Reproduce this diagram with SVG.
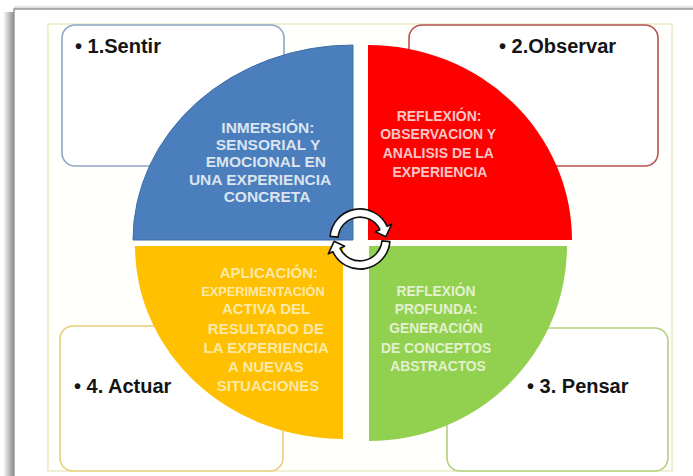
<svg xmlns="http://www.w3.org/2000/svg" width="693" height="476" viewBox="0 0 693 476">
<defs>
<linearGradient id="shL" x1="0" y1="0" x2="1" y2="0">
<stop offset="0" stop-color="#ffffff"/>
<stop offset="1" stop-color="#8a8a8a"/>
</linearGradient>
<linearGradient id="shT" x1="0" y1="0" x2="0" y2="1">
<stop offset="0" stop-color="#ffffff"/>
<stop offset="1" stop-color="#c8c8c8"/>
</linearGradient>
</defs>
<style>
.box{fill:#ffffff;stroke-width:1.6}
.lbl{font-family:"Liberation Sans",Arial,sans-serif;font-weight:bold;font-size:20px;fill:#141414}
.q{font-family:"Liberation Sans",Arial,sans-serif;font-weight:bold;text-anchor:middle}
.cyc{fill:#ffffff;stroke:#111111;stroke-width:1.6;stroke-linejoin:round}
</style>
<rect x="0" y="0" width="693" height="476" fill="#ffffff"/>
<!-- photo frame -->
<rect x="3" y="12" width="11" height="464" fill="url(#shL)"/>
<rect x="14" y="5" width="679" height="4" fill="url(#shT)"/>
<rect x="14" y="9" width="690" height="480" fill="#ffffff" stroke="#9a9a9a" stroke-width="1.5"/>
<!-- inner panel -->
<rect x="48" y="24" width="624" height="447" fill="#fffffb" stroke="#eceac6" stroke-width="1.5"/>

<g id="box1">
<rect class="box" x="62" y="25" width="222" height="141" rx="13" stroke="#8fa6c6"/>
<text class="lbl" x="75" y="53">• 1.Sentir</text>
</g>
<g id="box2">
<rect class="box" x="409" y="25" width="249" height="141" rx="13" stroke="#b9534f"/>
<text class="lbl" x="499" y="53">• 2.Observar</text>
</g>
<g id="box4">
<rect class="box" x="60" y="326" width="223" height="145" rx="13" stroke="#e6cf78"/>
<text class="lbl" x="74" y="393">• 4. Actuar</text>
</g>
<g id="box3">
<rect class="box" x="447" y="328" width="221" height="143" rx="13" stroke="#b3d07c"/>
<text class="lbl" x="527" y="393">• 3. Pensar</text>
</g>

<g id="q-blue">
<path d="M353 240 L133 240 A220 195 0 0 1 353 45 Z" fill="#4a7ebc" stroke="#3f6ea8" stroke-width="1"/>
<text class="q" fill="#dbe4ef" font-size="15.5">
<tspan x="270" y="133">INMERSIÓN:</tspan>
<tspan x="270" y="150">SENSORIAL Y</tspan>
<tspan x="268" y="167">EMOCIONAL EN</tspan>
<tspan x="262" y="185">UNA EXPERIENCIA</tspan>
<tspan x="267" y="202">CONCRETA</tspan>
</text>
</g>
<g id="q-red">
<path d="M368 240 L368 45 A204 195 0 0 1 572 240 Z" fill="#fe0000"/>
<text class="q" fill="#f9c6c6" font-size="14">
<tspan x="441" y="121">REFLEXIÓN:</tspan>
<tspan x="440" y="139">OBSERVACION Y</tspan>
<tspan x="440" y="158">ANALISIS DE LA</tspan>
<tspan x="440" y="177">EXPERIENCIA</tspan>
</text>
</g>
<g id="q-yellow">
<path d="M343 246 L343 439 A208 193 0 0 1 135 246 Z" fill="#fec000"/>
<text class="q" fill="#fde9a6" font-size="15">
<tspan x="271" y="278">APLICACIÓN:</tspan>
<tspan x="265" y="296" font-size="12.8">EXPERIMENTACIÓN</tspan>
<tspan x="268" y="314">ACTIVA DEL</tspan>
<tspan x="268" y="334">RESULTADO DE</tspan>
<tspan x="268" y="353">LA EXPERIENCIA</tspan>
<tspan x="268" y="372">A NUEVAS</tspan>
<tspan x="268" y="391">SITUACIONES</tspan>
</text>
</g>
<g id="q-green">
<path d="M369 246 L567 246 A198 195 0 0 1 369 441 Z" fill="#92d050"/>
<text class="q" fill="#e3f1cf" font-size="13.8">
<tspan x="438" y="296">REFLEXIÓN</tspan>
<tspan x="438" y="314">PROFUNDA:</tspan>
<tspan x="438" y="333">GENERACIÓN</tspan>
<tspan x="438" y="353">DE  CONCEPTOS</tspan>
<tspan x="438" y="371">ABSTRACTOS</tspan>
</text>
</g>

<g id="connectors">
<path class="cyc" d="M330.1 236.4 A30 30 0 0 1 387.2 226.3 L391.7 224.2 L385.9 236.7 L375.4 231.8 L379.9 229.7 A22 22 0 0 0 338.1 237.1 Z"/>
<path class="cyc" d="M389.9 241.6 A30 30 0 0 1 332.8 251.7 L328.3 253.8 L334.1 241.3 L344.6 246.2 L340.1 248.3 A22 22 0 0 0 381.9 240.9 Z"/>
</g>
</svg>
